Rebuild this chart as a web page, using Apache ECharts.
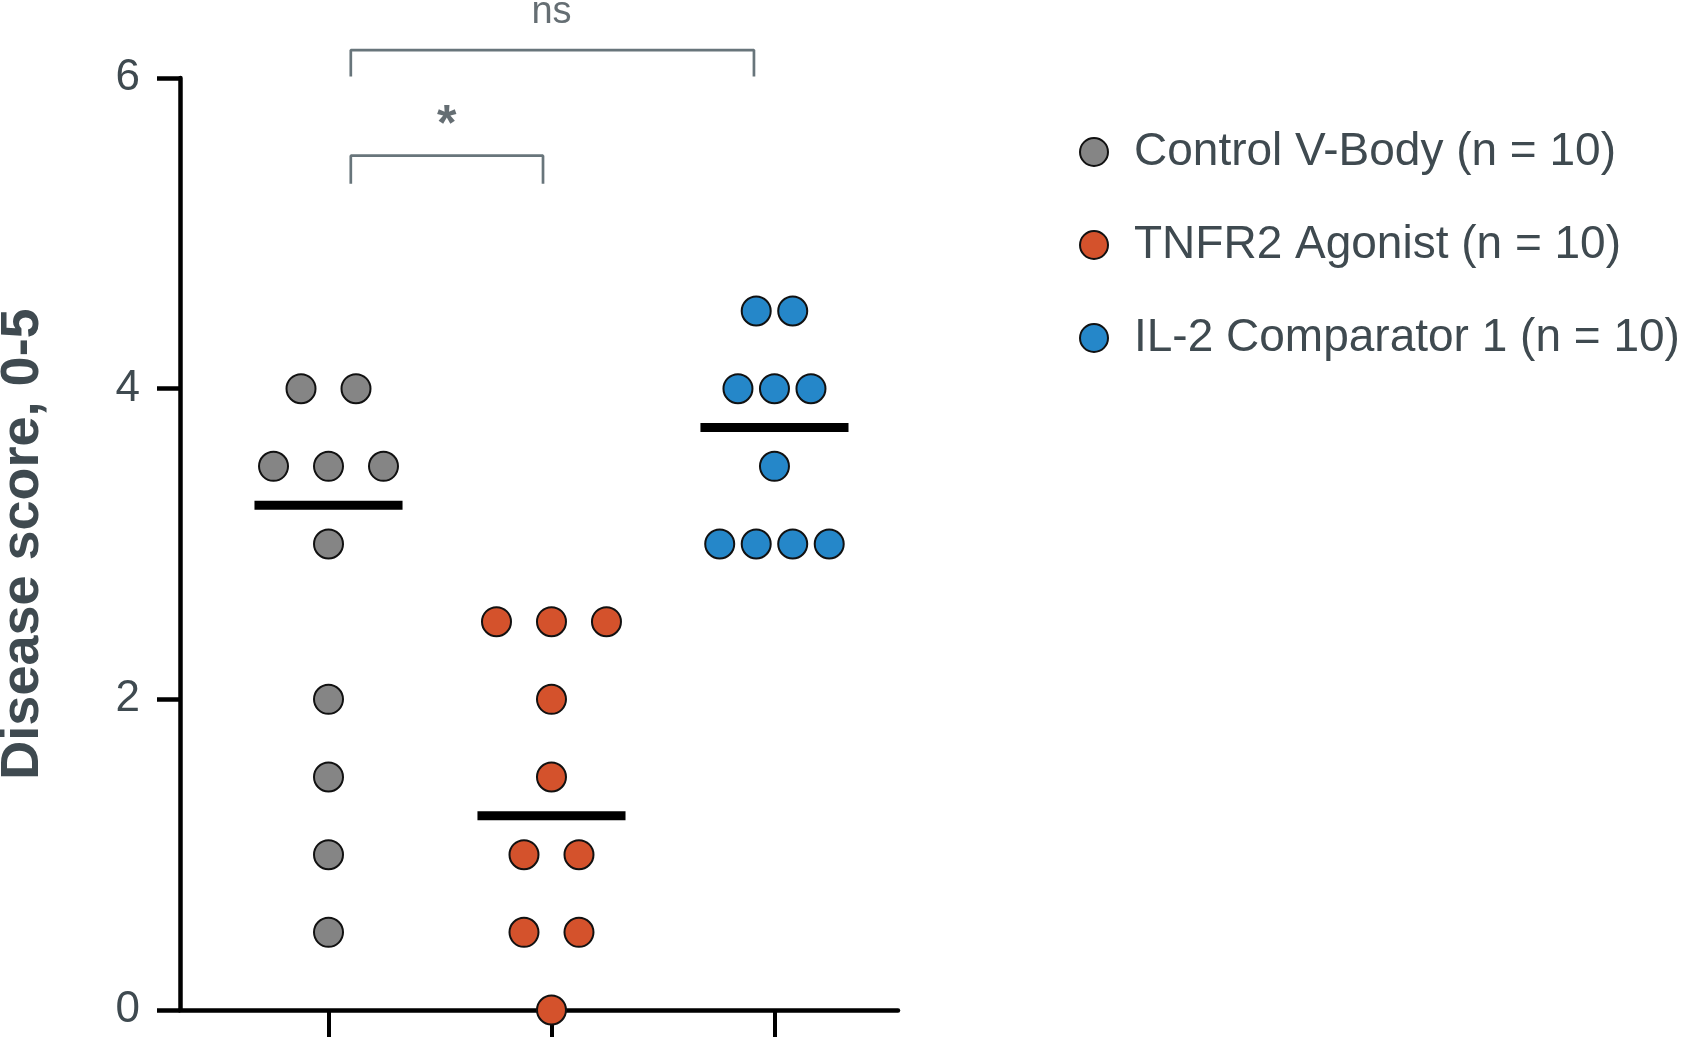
<!DOCTYPE html>
<html>
<head>
<meta charset="utf-8">
<title>Disease score</title>
<script src="https://cdn.jsdelivr.net/npm/echarts@6.0.0/dist/echarts.min.js"></script>
<style>
  html, body { margin: 0; padding: 0; background: #fff; }
  #chart { width: 1689px; height: 1040px; }
</style>
</head>
<body>
<div id="chart"></div>
<script>
// groups and per-animal scores (0-5 scale)
const groupNames = ['Control V-Body (n = 10)', 'TNFR2 Agonist (n = 10)', 'IL-2 Comparator 1 (n = 10)'];
const groupColors = ['#858585', '#d4522c', '#2587c9'];
const controlScores = [4, 4, 3.5, 3.5, 3.5, 3, 2, 1.5, 1, 0.5];
const agonistScores = [2.5, 2.5, 2.5, 2, 1.5, 1, 1, 0.5, 0.5, 0];
const comparatorScores = [4.5, 4.5, 4, 4, 4, 3.5, 3, 3, 3, 3];
const groupScores = [controlScores, agonistScores, comparatorScores];
const groupCenters = [1, 2, 3];
const yTickValues = [0, 2, 4, 6];

// significance comparisons: between groups, and the mark drawn above
const comparisons = [
  { label: '*', pair: [0, 1] },
  { label: 'ns', pair: [0, 2] }
];

// layout (axis units)
const swarmSpacing = [0.2466, 0.2466, 0.1637];
const medianHalfWidth = 0.332;
const bracketLayout = [
  { x0: 1.1, x1: 1.962, top: 5.5, bottom: 5.32, textX: 1.53, textY: 5.69 },
  { x0: 1.1, x1: 2.908, top: 6.18, bottom: 6.01, textX: 2.0, textY: 6.42 }
];

const textColor = '#3f4a50';
const fontFamily = '"Liberation Sans", Arial, Helvetica, sans-serif';

function median(arr) {
  const s = [...arr].sort((a, b) => a - b);
  const m = Math.floor(s.length / 2);
  return s.length % 2 ? s[m] : (s[m - 1] + s[m]) / 2;
}

// spread points that share a value side by side around the group center
function swarm(values, center, spacing) {
  const counts = {};
  values.forEach(v => { counts[v] = (counts[v] || 0) + 1; });
  const seen = {};
  return values.map(v => {
    const k = seen[v] || 0;
    seen[v] = k + 1;
    return [center + (k - (counts[v] - 1) / 2) * spacing, v];
  });
}

const chart = echarts.init(document.getElementById('chart'));

const series = [];

groupScores.forEach((scores, i) => {
  const c = groupCenters[i];
  const med = median(scores);
  series.push({
    type: 'line',
    name: 'median-' + i,
    data: [[c - medianHalfWidth, med], [c + medianHalfWidth, med]],
    symbol: 'none',
    lineStyle: { color: '#000', width: 9, cap: 'butt' },
    z: 2,
    silent: true
  });
});

groupScores.forEach((scores, i) => {
  series.push({
    type: 'scatter',
    name: groupNames[i],
    data: swarm(scores, groupCenters[i], swarmSpacing[i]),
    symbol: 'circle',
    symbolSize: 29,
    itemStyle: { color: groupColors[i], borderColor: '#111', borderWidth: 2, opacity: 1 },
    z: 3
  });
});

comparisons.forEach((cmp, i) => {
  const b = bracketLayout[i];
  series.push({
    type: 'line',
    name: 'bracket-' + i,
    data: [[b.x0, b.bottom], [b.x0, b.top], [b.x1, b.top], [b.x1, b.bottom]],
    symbol: 'none',
    clip: false,
    lineStyle: { color: '#68757b', width: 2.7 },
    silent: true
  });
  series.push({
    type: 'scatter',
    name: 'mark-' + i,
    data: [{ value: [b.textX, b.textY], name: cmp.label }],
    symbolSize: 0,
    clip: false,
    silent: true,
    label: {
      show: true,
      position: 'inside',
      formatter: '{b}',
      color: textColor,
      fontFamily: fontFamily,
      fontSize: cmp.label === '*' ? 50 : 38,
      fontWeight: cmp.label === '*' ? 'bold' : 'normal'
    }
  });
});

const option = {
  animation: false,
  backgroundColor: '#fff',
  grid: {
    left: 180, top: 78, width: 718, height: 932,
    containLabel: false,
    outerBoundsMode: 'none'
  },
  legend: {
    data: groupNames,
    orient: 'vertical',
    left: 1074,
    top: 124,
    icon: 'circle',
    itemWidth: 28,
    itemHeight: 28,
    itemGap: 47,
    selectedMode: false,
    textStyle: {
      color: textColor,
      fontSize: 46,
      fontFamily: fontFamily,
      lineHeight: 46,
      padding: [0, 0, 0, 21]
    }
  },
  xAxis: {
    type: 'value',
    min: 0.334,
    max: 3.554,
    axisLine: { show: true, onZero: false, lineStyle: { color: '#000', width: 4.5 } },
    axisTick: {
      show: true,
      customValues: groupCenters,
      length: 27,
      lineStyle: { color: '#000', width: 4 }
    },
    axisLabel: { show: false },
    splitLine: { show: false }
  },
  yAxis: {
    type: 'value',
    min: 0,
    max: 6,
    interval: 2,
    name: 'Disease score, 0-5',
    nameLocation: 'middle',
    nameGap: 130,
    nameTextStyle: {
      color: textColor,
      fontSize: 54,
      fontWeight: 'bold',
      fontFamily: fontFamily
    },
    axisLine: { show: true, lineStyle: { color: '#000', width: 4.5 } },
    axisTick: { show: true, length: 23, lineStyle: { color: '#000', width: 4.5 } },
    axisLabel: {
      color: textColor,
      fontSize: 44,
      fontFamily: fontFamily,
      margin: 40,
      customValues: yTickValues
    },
    splitLine: { show: false }
  },
  series: series
};

chart.setOption(option);
window.addEventListener('resize', () => chart.resize());
</script>
</body>
</html>
